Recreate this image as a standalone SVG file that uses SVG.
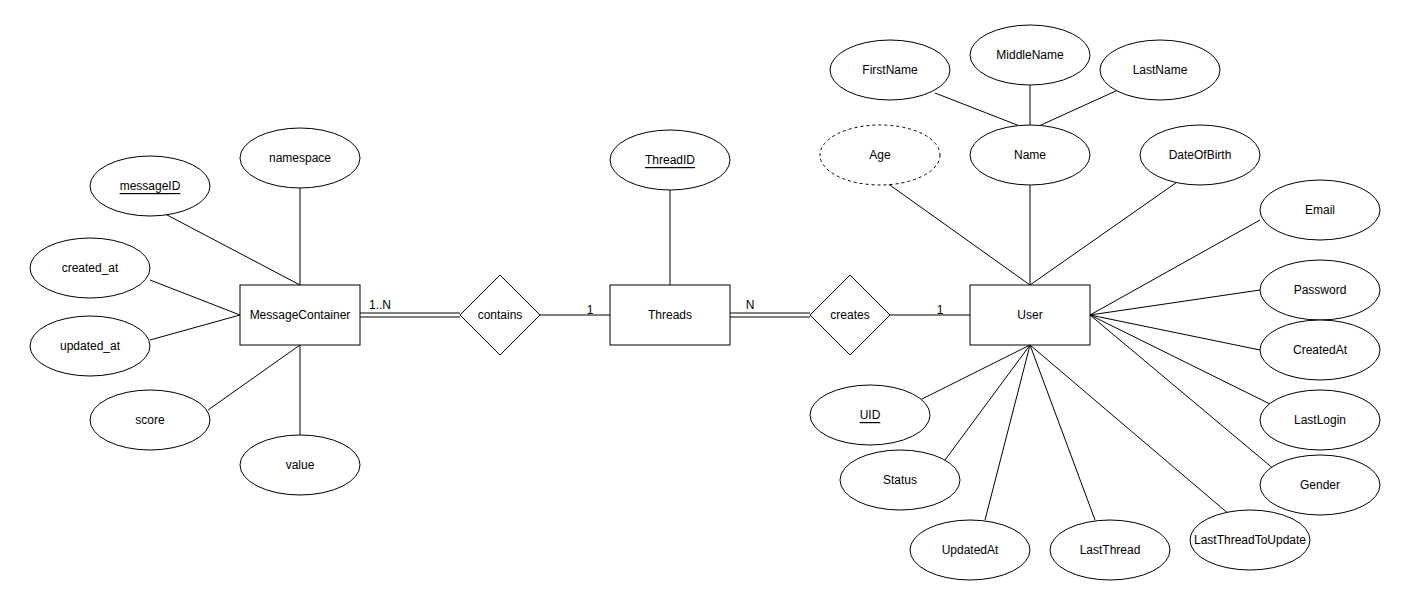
<svg xmlns="http://www.w3.org/2000/svg" width="1411" height="606" viewBox="0 0 1411 606">
<style>
.n rect,ellipse,polygon{fill:#fff;stroke:#000;stroke-width:1}
line{stroke:#000;stroke-width:1}
text{font-family:"Liberation Sans",Arial,sans-serif;font-size:12px;text-anchor:middle;dominant-baseline:central;fill:#000}
.u{text-decoration:underline}
.d{stroke-dasharray:3 3}
</style>
<rect width="1411" height="606" style="fill:#fff;stroke:none"/>
<g id="connectors">
<line x1="300" y1="188" x2="300" y2="285"/>
<line x1="150" y1="206" x2="300" y2="285"/>
<line x1="150" y1="280" x2="240" y2="315"/>
<line x1="150" y1="340" x2="240" y2="315"/>
<line x1="208" y1="410" x2="300" y2="345"/>
<line x1="300" y1="435" x2="300" y2="345"/>
<line x1="360" y1="313" x2="460" y2="313"/>
<line x1="360" y1="317" x2="460" y2="317"/>
<line x1="540" y1="315" x2="610" y2="315"/>
<line x1="670" y1="190" x2="670" y2="285"/>
<line x1="730" y1="313" x2="810" y2="313"/>
<line x1="730" y1="317" x2="810" y2="317"/>
<line x1="890" y1="315" x2="970" y2="315"/>
<line x1="935" y1="93" x2="1030" y2="130"/>
<line x1="1030" y1="85" x2="1030" y2="125"/>
<line x1="1118" y1="90" x2="1030" y2="130"/>
<line x1="1030" y1="185" x2="1030" y2="285"/>
<line x1="880" y1="178" x2="1030" y2="285"/>
<line x1="1180" y1="180" x2="1030" y2="285"/>
<line x1="1260" y1="220" x2="1090" y2="315"/>
<line x1="1260" y1="290" x2="1090" y2="315"/>
<line x1="1260" y1="350" x2="1090" y2="315"/>
<line x1="1272" y1="405" x2="1090" y2="315"/>
<line x1="1275" y1="470" x2="1090" y2="315"/>
<line x1="920" y1="400" x2="1030" y2="345"/>
<line x1="945" y1="460" x2="1030" y2="345"/>
<line x1="985" y1="520" x2="1030" y2="345"/>
<line x1="1095" y1="520" x2="1030" y2="345"/>
<line x1="1230" y1="515" x2="1030" y2="345"/>
<text x="380" y="305">1..N</text>
<text x="590" y="310">1</text>
<text x="750" y="305">N</text>
<text x="940" y="310">1</text>
</g>
<g id="MessageContainer" class="n"><rect x="240" y="285" width="120" height="60"/><text x="300" y="315">MessageContainer</text></g>
<g id="contains"><polygon points="500,275 540,315 500,355 460,315"/><text x="500" y="315">contains</text></g>
<g id="Threads" class="n"><rect x="610" y="285" width="120" height="60"/><text x="670" y="315">Threads</text></g>
<g id="creates"><polygon points="850,275 890,315 850,355 810,315"/><text x="850" y="315">creates</text></g>
<g id="User" class="n"><rect x="970" y="285" width="120" height="60"/><text x="1030" y="315">User</text></g>
<g id="namespace"><ellipse cx="300" cy="158" rx="60" ry="30"/><text x="300" y="158">namespace</text></g>
<g id="messageID"><ellipse cx="150" cy="186" rx="60" ry="30"/><text class="u" x="150" y="186">messageID</text></g>
<g id="created_at"><ellipse cx="90" cy="268" rx="60" ry="30"/><text x="90" y="268">created_at</text></g>
<g id="updated_at"><ellipse cx="90" cy="346" rx="60" ry="30"/><text x="90" y="346">updated_at</text></g>
<g id="score"><ellipse cx="150" cy="420" rx="60" ry="30"/><text x="150" y="420">score</text></g>
<g id="value"><ellipse cx="300" cy="465" rx="60" ry="30"/><text x="300" y="465">value</text></g>
<g id="ThreadID"><ellipse cx="670" cy="160" rx="60" ry="30"/><text class="u" x="670" y="160">ThreadID</text></g>
<g id="FirstName"><ellipse cx="890" cy="70" rx="60" ry="30"/><text x="890" y="70">FirstName</text></g>
<g id="MiddleName"><ellipse cx="1030" cy="55" rx="60" ry="30"/><text x="1030" y="55">MiddleName</text></g>
<g id="LastName"><ellipse cx="1160" cy="70" rx="60" ry="30"/><text x="1160" y="70">LastName</text></g>
<g id="Name"><ellipse cx="1030" cy="155" rx="60" ry="30"/><text x="1030" y="155">Name</text></g>
<g id="Age"><ellipse class="d" cx="880" cy="155" rx="60" ry="30"/><text x="880" y="155">Age</text></g>
<g id="DateOfBirth"><ellipse cx="1200" cy="155" rx="60" ry="30"/><text x="1200" y="155">DateOfBirth</text></g>
<g id="Email"><ellipse cx="1320" cy="210" rx="60" ry="30"/><text x="1320" y="210">Email</text></g>
<g id="Password"><ellipse cx="1320" cy="290" rx="60" ry="30"/><text x="1320" y="290">Password</text></g>
<g id="CreatedAt"><ellipse cx="1320" cy="350" rx="60" ry="30"/><text x="1320" y="350">CreatedAt</text></g>
<g id="LastLogin"><ellipse cx="1320" cy="420" rx="60" ry="30"/><text x="1320" y="420">LastLogin</text></g>
<g id="Gender"><ellipse cx="1320" cy="485" rx="60" ry="30"/><text x="1320" y="485">Gender</text></g>
<g id="UID"><ellipse cx="870" cy="415" rx="60" ry="30"/><text class="u" x="870" y="415">UID</text></g>
<g id="Status"><ellipse cx="900" cy="480" rx="60" ry="30"/><text x="900" y="480">Status</text></g>
<g id="UpdatedAt"><ellipse cx="970" cy="550" rx="60" ry="30"/><text x="970" y="550">UpdatedAt</text></g>
<g id="LastThread"><ellipse cx="1110" cy="550" rx="60" ry="30"/><text x="1110" y="550">LastThread</text></g>
<g id="LastThreadToUpdate"><ellipse cx="1250" cy="540" rx="60" ry="30"/><text x="1250" y="540">LastThreadToUpdate</text></g>
</svg>
